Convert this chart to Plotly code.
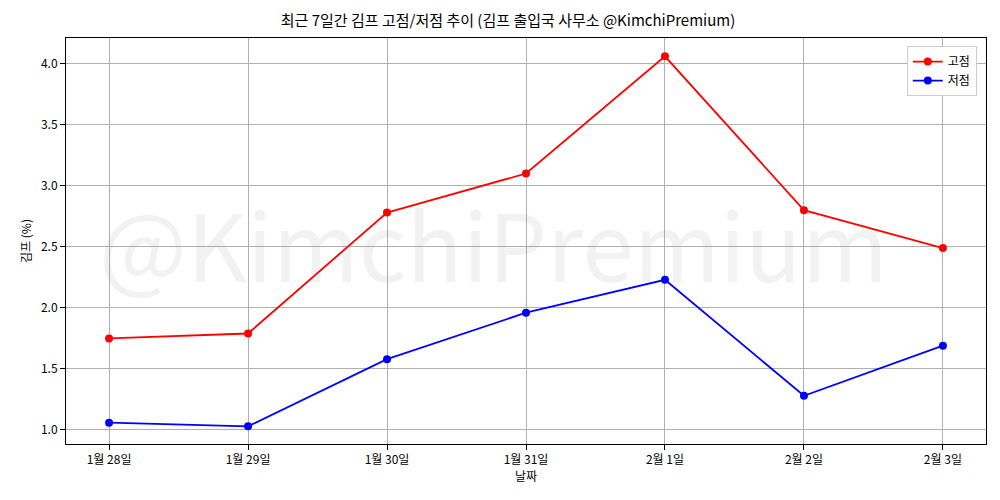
import plotly.graph_objects as go

dates = ["1월 28일", "1월 29일", "1월 30일", "1월 31일", "2월 1일", "2월 2일", "2월 3일"]
high = [1.75, 1.79, 2.78, 3.10, 4.06, 2.80, 2.49]
low = [1.06, 1.03, 1.58, 1.96, 2.23, 1.28, 1.69]

fnt = "Noto Sans CJK KR"
fig = go.Figure()
fig.add_trace(go.Scatter(x=list(range(len(dates))), y=high, name="고점", mode="lines+markers",
                         line=dict(color="red", width=1.8), marker=dict(size=8, color="red")))
fig.add_trace(go.Scatter(x=list(range(len(dates))), y=low, name="저점", mode="lines+markers",
                         line=dict(color="blue", width=1.8), marker=dict(size=8, color="blue")))

fig.add_annotation(text="@KimchiPremium", x=0.465, y=0.5, xref="paper", yref="paper",
                   showarrow=False, font=dict(family=fnt, size=93, color="rgba(128,128,128,0.1)"))

ax = dict(showline=True, linecolor="black", mirror=True, showgrid=True, gridcolor="#b0b0b0",
          ticks="outside", tickcolor="black", zeroline=False, tickfont=dict(size=12, color="black"))
fig.update_layout(
    width=1000, height=500, plot_bgcolor="white", paper_bgcolor="white",
    font=dict(family=fnt, color="black"),
    margin=dict(l=58, r=22, t=30, b=64),
    title=dict(text="최근 7일간 김프 고점/저점 추이 (김프 출입국 사무소 @KimchiPremium)",
               x=0.5, xanchor="center", y=0.985, yanchor="top", font=dict(size=15)),
    xaxis=dict(ax, tickvals=list(range(len(dates))), ticktext=dates, range=[-0.31, 6.31],
               title=dict(text="날짜", font=dict(size=12), standoff=2)),
    yaxis=dict(ax, range=[0.885, 4.21], dtick=0.5, tickformat=".1f",
               title=dict(text="김프 (%)", font=dict(size=12), standoff=6)),
    legend=dict(x=0.99, y=0.98, xanchor="right", yanchor="top", bordercolor="#ccc",
                borderwidth=1, bgcolor="white", font=dict(size=12)),
)
fig.write_html("out.html")
